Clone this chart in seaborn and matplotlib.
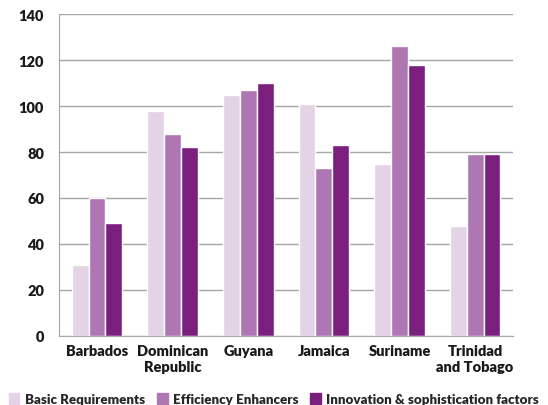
import matplotlib
matplotlib.use("Agg")
import matplotlib.pyplot as plt
import seaborn as sns
import pandas as pd
import numpy as np

countries = ["Barbados", "Dominican\nRepublic", "Guyana", "Jamaica", "Suriname", "Trinidad\nand Tobago"]
series = ["Basic Requirements", "Efficiency Enhancers", "Innovation & sophistication factors"]
basic = [31, 98, 105, 101, 75, 48]
efficiency = [60, 88, 107, 73, 126, 79]
innovation = [49, 82, 110, 83, 118, 79]
colors = ["#E4D2E6", "#AE76B2", "#7B1F7F"]

rows = []
for s, vals in zip(series, [basic, efficiency, innovation]):
    for c, v in zip(countries, vals):
        rows.append({"country": c, "series": s, "value": v})
df = pd.DataFrame(rows)

sns.set_style("white")
plt.rcParams['font.family'] = ['Lato', 'DejaVu Sans']

fig = plt.figure(figsize=(5.48, 4.06), dpi=100)
ax = fig.add_axes([0.108, 0.170, 0.828, 0.793])
sns.barplot(data=df, x="country", y="value", hue="series", palette=colors,
            order=countries, hue_order=series, width=0.67, ax=ax, saturation=1)

ax.set_ylim(0, 140)
ax.set_yticks(range(0, 141, 20))
ax.set_xlim(-0.5, 5.5)
ax.yaxis.grid(True, color="#A6A6A6", linewidth=1)
ax.set_axisbelow(True)
for side in ["top", "right"]:
    ax.spines[side].set_visible(False)
ax.spines["left"].set_color("#A6A6A6")
ax.spines["bottom"].set_color("#A6A6A6")
ax.set_xlabel("")
ax.set_ylabel("")
ax.tick_params(axis="y", length=4, color="#A6A6A6", labelsize=10.5, pad=7)
ax.tick_params(axis="x", length=0, labelsize=10.5, pad=6)
for lab in ax.get_yticklabels() + ax.get_xticklabels():
    lab.set_fontweight("heavy")
    lab.set_color("#1a1a1a")
# boundary ticks between categories
ax.set_xticks(np.arange(-0.5, 6, 1), minor=True)
ax.tick_params(axis="x", which="minor", length=5, color="#A6A6A6")

ax.legend_.remove()
handles = [plt.Rectangle((0, 0), 1, 1, color=c) for c in colors]
leg = fig.legend(handles, series, loc="lower center", bbox_to_anchor=(0.5, -0.03),
                 ncol=3, frameon=False, handlelength=0.8, handleheight=0.8,
                 handletextpad=0.4, columnspacing=0.9,
                 prop={"weight": "heavy", "size": 9.6})
fig.savefig("out.png", dpi=100)
